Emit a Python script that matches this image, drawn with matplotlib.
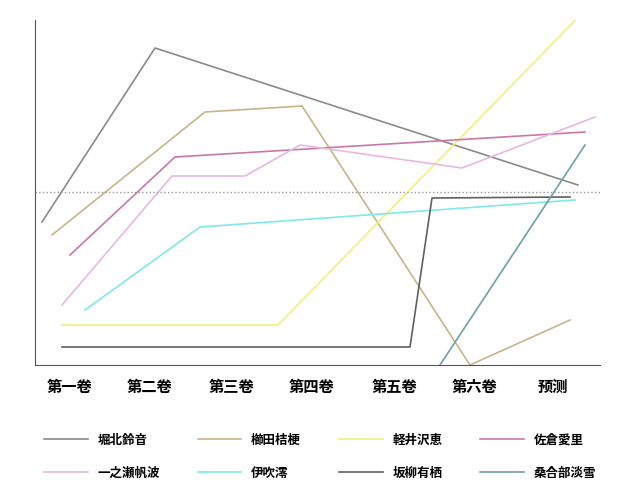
import matplotlib.pyplot as plt
plt.rcParams['font.family'] = ['Noto Sans CJK JP', 'DejaVu Sans']

categories = ['第一卷', '第二卷', '第三卷', '第四卷', '第五卷', '第六卷', '预测']
cat_pos = [70, 150, 232, 312, 395, 475, 553]
names = ['堀北鈴音', '櫛田桔梗', '軽井沢恵', '佐倉愛里', '一之瀬帆波', '伊吹澪', '坂柳有栖', '桑合部淡雪']
colors = ['#8a8a8a', '#c8b48a', '#f0f080', '#c878a8', '#e8b8e0', '#80e8e8', '#606060', '#70a0a0']
xs = [
    [42, 155, 578],
    [52, 205, 302, 470, 570],
    [62, 278, 590],
    [70, 175, 585],
    [62, 172, 245, 300, 462, 595],
    [85, 200, 575],
    [62, 410, 432, 570],
    [440, 585],
]
ys = [
    [143, 317, 180],
    [130, 253, 259, 0, 45],
    [40, 40, 360],
    [110, 208, 233],
    [60, 189, 189, 220, 197, 248],
    [55, 138, 165],
    [18, 18, 167, 168],
    [0, 220],
]

fig = plt.figure(figsize=(6.4, 4.91), dpi=100)
ax = fig.add_axes([35/640, 126/491, 565/640, 345/491])
for x, y, c in zip(xs, ys, colors):
    ax.plot(x, y, color=c, lw=1.2)
ax.axhline(173, color='#999999', ls=':', lw=1)
ax.set_xlim(35, 600)
ax.set_ylim(0, 345)
ax.set_yticks([])
ax.set_xticks(cat_pos)
ax.set_xticklabels(categories, fontsize=11, fontweight='bold')
ax.tick_params(axis='x', length=0, pad=10)
for s in ['top', 'right']:
    ax.spines[s].set_visible(False)
ax.spines['left'].set_color('#555555')
ax.spines['bottom'].set_color('#555555')
handles = [plt.Line2D([], [], color=c, lw=1.2) for c in colors]
order = [0, 4, 1, 5, 2, 6, 3, 7]
fig.legend([handles[i] for i in order], [names[i] for i in order], loc='lower center',
           bbox_to_anchor=(0.5, 0.0), ncol=4,
           frameon=False, prop={'size': 9, 'weight': 'bold'}, handlelength=3.5,
           columnspacing=3, labelspacing=1.6)
fig.savefig('out.png')
